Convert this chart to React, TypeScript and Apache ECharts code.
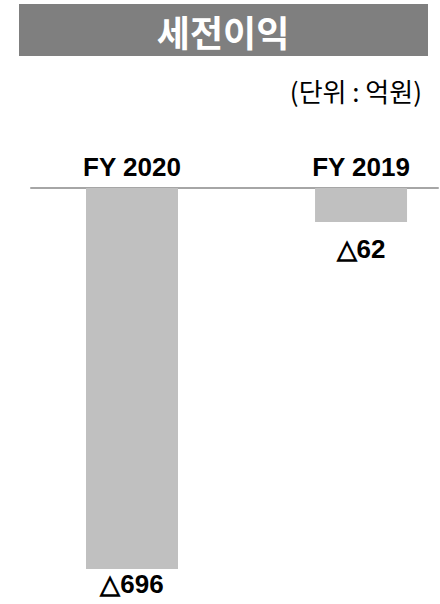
import React, { useEffect, useRef } from "react";
import * as echarts from "echarts";

const categories = ["FY 2020", "FY 2019"];
const values = [-696, -62];
const labelGaps = [2, 14];
const titleText = "세전이익";
const unitText = "(단위 : 억원)";

export default function App() {
  const ref = useRef<HTMLDivElement>(null);
  useEffect(() => {
    const chart = echarts.init(ref.current!, null, { renderer: "svg" });
    const labelFont = "'Liberation Sans', Arial, sans-serif";
    chart.setOption({
      animation: false,
      backgroundColor: "#ffffff",
      graphic: [
        { type: "rect", shape: { x: 19, y: 4, width: 409, height: 52 }, style: { fill: "#7f7f7f" } },
        {
          type: "text", x: 223, y: 31,
          style: { text: titleText, fill: "#ffffff", font: "bold 36px 'Noto Sans CJK KR', sans-serif", align: "center", verticalAlign: "middle" },
        },
        {
          type: "text", x: 422, y: 90,
          style: { text: unitText, fill: "#000000", font: "26px 'Noto Sans CJK KR', sans-serif", align: "right", verticalAlign: "middle" },
        },
      ],
      grid: { left: 31, right: 2, top: 188, height: 381, containLabel: false },
      xAxis: {
        type: "value",
        position: "top",
        min: -0.441,
        max: 1.336,
        splitLine: { show: false },
        axisLine: { show: true, onZero: false, lineStyle: { color: "#a6a6a6", width: 2 } },
        axisTick: { show: false },
        axisLabel: {
          customValues: [0, 1],
          formatter: (v: number) => categories[Math.round(v)] ?? "",
          color: "#000",
          fontWeight: "bold",
          fontSize: 26,
          fontFamily: labelFont,
          margin: 8,
        },
      },
      yAxis: { type: "value", min: -696, max: 0, show: false, splitLine: { show: false } },
      series: [
        {
          type: "bar",
          data: values.map((v, i) => ({ value: [i, v], label: { distance: labelGaps[i] } })),
          barWidth: 92,
          itemStyle: { color: "#c0c0c0" },
          label: {
            show: true,
            position: "bottom",
            formatter: (p: any) => "△" + Math.abs(p.value[1]),
            color: "#000",
            fontWeight: "bold",
            fontSize: 26,
            fontFamily: labelFont,
          },
        },
      ],
    });
    return () => chart.dispose();
  }, []);
  return <div ref={ref} style={{ width: 440, height: 604, position: "absolute", left: 0, top: 0 }} />;
}
